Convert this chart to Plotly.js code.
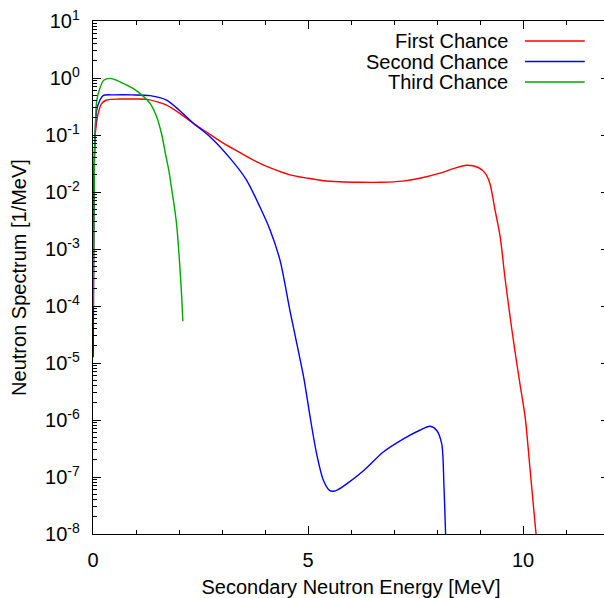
<!DOCTYPE html>
<html>
<head>
<meta charset="utf-8">
<script src="https://cdn.plot.ly/plotly-3.0.1.min.js"></script>
<style>
html, body { margin: 0; padding: 0; overflow: hidden; background: #fff; }
#chart { width: 612px; height: 598px; }
</style>
</head>
<body>
<div id="chart"></div>
<script>
// Series names
const seriesNames = ["First Chance", "Second Chance", "Third Chance"];

// First Chance (red)
const firstX = [0.005, 0.02, 0.047, 0.08, 0.12, 0.2, 0.3, 0.4, 0.6, 0.9, 1.25, 1.5, 1.71, 2.0, 2.33, 2.7, 3.03, 3.42, 3.81, 4.2, 4.58, 5.0, 5.36, 5.74, 6.2, 6.7, 7.2, 7.6, 8.07, 8.38, 8.69, 8.96, 9.12, 9.23, 9.35, 9.47, 9.58, 9.70, 9.81, 9.93, 10.05, 10.16, 10.30, 10.33];
const firstY = [1.58e-5, 0.010, 0.093, 0.158, 0.24, 0.355, 0.407, 0.422, 0.427, 0.427, 0.422, 0.380, 0.335, 0.245, 0.160, 0.105, 0.0720, 0.0490, 0.0339, 0.0251, 0.0200, 0.0174, 0.0158, 0.0151, 0.0148, 0.0148, 0.0155, 0.0174, 0.0214, 0.0257, 0.0295, 0.0269, 0.0214, 0.0141, 0.00479, 0.00162, 3.16e-4, 6.46e-5, 1.66e-5, 4.27e-6, 1.12e-6, 1.48e-7, 1.07e-8, 7e-9];

// Second Chance (blue)
const secondX = [0.005, 0.02, 0.05, 0.086, 0.16, 0.24, 0.5, 0.9, 1.33, 1.71, 2.0, 2.33, 2.72, 3.19, 3.57, 3.88, 4.12, 4.35, 4.58, 4.74, 4.90, 5.05, 5.20, 5.36, 5.51, 5.59, 5.70, 5.90, 6.29, 6.75, 7.22, 7.60, 7.84, 7.99, 8.11, 8.16, 8.20, 8.21];
const secondY = [1.26e-5, 0.0126, 0.107, 0.275, 0.407, 0.495, 0.505, 0.505, 0.490, 0.410, 0.275, 0.162, 0.0933, 0.0389, 0.0162, 0.0055, 0.00214, 6.3e-4, 8.3e-5, 2.19e-5, 5.6e-6, 1.12e-6, 2.57e-7, 8.7e-8, 5.75e-8, 5.62e-8, 6.03e-8, 7.59e-8, 1.29e-7, 2.75e-7, 4.68e-7, 6.61e-7, 7.76e-7, 6.61e-7, 3.8e-7, 7.59e-8, 1.0e-8, 7e-9];

// Third Chance (green)
const thirdX = [0.005, 0.03, 0.05, 0.086, 0.16, 0.25, 0.40, 0.55, 0.70, 0.9, 1.09, 1.33, 1.48, 1.60, 1.69, 1.77, 1.84, 1.90, 1.95, 2.01, 2.06, 2.09];
const thirdY = [1.0e-4, 0.0214, 0.107, 0.398, 0.66, 0.912, 0.984, 0.912, 0.805, 0.676, 0.537, 0.355, 0.209, 0.100, 0.0447, 0.0224, 0.0100, 0.0050, 0.00245, 6.3e-4, 1.58e-4, 5.4e-5];

// Y tick labels
const yTickVals = [1e-8, 1e-7, 1e-6, 1e-5, 1e-4, 1e-3, 1e-2, 1e-1, 1e0, 1e1];
const yTickText = ["10<sup>-8</sup>", "10<sup>-7</sup>", "10<sup>-6</sup>", "10<sup>-5</sup>", "10<sup>-4</sup>", "10<sup>-3</sup>", "10<sup>-2</sup>", "10<sup>-1</sup>", "10<sup>0</sup>", "10<sup>1</sup>"];
// X tick labels
const xTickVals = [0, 5, 10];
const xTickText = ["0", "5", "10"];

const colors = ["#ff0000", "#0000ff", "#00a800"];
const FONT = "Liberation Sans, Arial, Helvetica, sans-serif";
const FS = 20;

const seriesX = [firstX, secondX, thirdX];
const seriesY = [firstY, secondY, thirdY];

const traces = seriesNames.map((name, i) => ({
  x: seriesX[i], y: seriesY[i], name: name, type: "scatter", mode: "lines",
  line: { color: colors[i], width: 1.4, shape: "spline", smoothing: 0.8 },
  showlegend: false, cliponaxis: true
}));

// Legend drawn gnuplot-style: text right-aligned, line sample to the right
const legendRowsY = [0.961, 0.921, 0.881];
const annotations = seriesNames.map((name, i) => ({
  xref: "paper", yref: "paper", x: 0.808, y: legendRowsY[i],
  xanchor: "right", yanchor: "middle", text: name, showarrow: false,
  font: { family: FONT, size: FS, color: "#000" }
}));
const shapes = seriesNames.map((name, i) => ({
  type: "line", xref: "paper", yref: "paper",
  x0: 0.837, x1: 0.953, y0: legendRowsY[i], y1: legendRowsY[i],
  line: { color: colors[i], width: 1.4 }
}));

const layout = {
  width: 612, height: 598,
  margin: { l: 93, r: 3, t: 21, b: 64 },
  paper_bgcolor: "#fff", plot_bgcolor: "#fff",
  font: { family: FONT, size: FS, color: "#000" },
  showlegend: false,
  xaxis: {
    range: [0, 12], tickvals: xTickVals, ticktext: xTickText,
    ticks: "inside", ticklen: 8, tickwidth: 1, tickcolor: "#000",
    showline: true, linecolor: "#000", linewidth: 1.2, mirror: "allticks",
    showgrid: false, zeroline: false, automargin: false,
    ticklabelstandoff: 8,
    minor: { dtick: 1, ticks: "inside", ticklen: 4, tickcolor: "#000", tickwidth: 1, showgrid: false },
    tickfont: { family: FONT, size: FS },
    title: { text: "Secondary Neutron Energy [MeV]", font: { family: FONT, size: FS }, standoff: 10 }
  },
  yaxis: {
    type: "log", range: [-8, 1], tickvals: yTickVals, ticktext: yTickText,
    ticks: "inside", ticklen: 8, tickwidth: 1, tickcolor: "#000",
    showline: true, linecolor: "#000", linewidth: 1.2, mirror: "allticks",
    showgrid: false, zeroline: false, automargin: false,
    ticklabelstandoff: 8,
    minor: { dtick: "D1", ticks: "inside", ticklen: 4, tickcolor: "#000", tickwidth: 1, showgrid: false },
    tickfont: { family: FONT, size: FS },
    title: { text: "Neutron Spectrum [1/MeV]", font: { family: FONT, size: FS }, standoff: 13 }
  },
  annotations: annotations,
  shapes: shapes
};

Plotly.newPlot("chart", traces, layout, { displayModeBar: false, staticPlot: true });
</script>
</body>
</html>
